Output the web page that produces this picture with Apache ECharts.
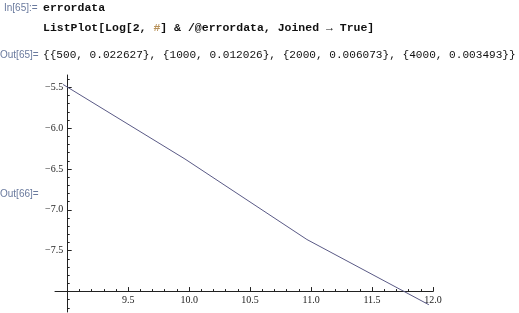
<!DOCTYPE html>
<html><head><meta charset="utf-8">
<script src="https://cdn.jsdelivr.net/npm/echarts@6/dist/echarts.min.js"></script>
<style>html,body{margin:0;padding:0;background:#fff;}#c{width:519px;height:313px;}</style>
</head><body><div id="c"></div>
<script>
// raw data as printed in Out[65]
const sizes = [500, 1000, 2000, 4000];
const errors = [0.022627, 0.012026, 0.006073, 0.003493];
// plotted values: Log[2, #] of each pair
const logSizes = [8.966, 9.966, 10.966, 11.966];
const logErrors = [-5.466, -6.378, -7.363, -8.161];
// tick labels
const xTickLabels = [9.5, 10.0, 10.5, 11.0, 11.5, 12.0];
const yTickLabels = [-7.5, -7.0, -6.5, -6.0, -5.5];
const xMinorTicks = [9.1,9.2,9.3,9.4,9.6,9.7,9.8,9.9,10.1,10.2,10.3,10.4,10.6,10.7,10.8,10.9,11.1,11.2,11.3,11.4,11.6,11.7,11.8,11.9];
const yMinorTicks = [-8.2,-8.1,-7.9,-7.8,-7.7,-7.6,-7.4,-7.3,-7.2,-7.1,-6.9,-6.8,-6.7,-6.6,-6.4,-6.3,-6.2,-6.1,-5.9,-5.8,-5.7,-5.6,-5.4];

const xMin = 8.9, xMax = 12.0, xOrigin = 9.0;
const yMin = -8.25, yMax = -5.35, yOrigin = -8.0;
const G = {left: 55, top: 75, width: 378, height: 237};
const xOff = -(yOrigin - yMin) / (yMax - yMin) * G.height;
const yOff = -(xOrigin - xMin) / (xMax - xMin) * G.width;

const axisColor = '#222';
const labelFont = {fontFamily: '"Liberation Serif", serif', fontSize: 10, color: '#222'};
const fmt = v => (v < 0 ? '\u2212' : '') + Math.abs(v).toFixed(1);

const pairs = sizes.map((s, i) => '{' + s + ', ' + errors[i] + '}');
const outText = '{' + pairs.join(', ') + '}';

function xAxisCfg(major) {
  return {
    type: 'value', gridIndex: 0, position: 'bottom', offset: xOff,
    min: xMin, max: xMax,
    splitLine: {show: false},
    axisLine: {show: major, onZero: false, lineStyle: {color: axisColor, width: 1}},
    axisTick: {show: true, inside: true, length: major ? 4.5 : 2.5,
      customValues: major ? xTickLabels : xMinorTicks, lineStyle: {color: axisColor}},
    axisLabel: major ? Object.assign({show: true, margin: 4, customValues: xTickLabels, formatter: fmt}, labelFont) : {show: false}
  };
}
function yAxisCfg(major) {
  return {
    type: 'value', gridIndex: 0, position: 'left', offset: yOff,
    min: yMin, max: yMax,
    splitLine: {show: false},
    axisLine: {show: major, onZero: false, lineStyle: {color: axisColor, width: 1}},
    axisTick: {show: true, inside: true, length: major ? 4.5 : 2.5,
      customValues: major ? yTickLabels : yMinorTicks, lineStyle: {color: axisColor}},
    axisLabel: major ? Object.assign({show: true, margin: 4, customValues: yTickLabels, formatter: fmt}, labelFont) : {show: false}
  };
}

const monoB = 'bold 11.5px "Liberation Mono", monospace';
const mono = '11.1px "Liberation Mono", monospace';
const tagFont = '10px "Liberation Sans", sans-serif';
const tagColor = '#6a7a9e';

const chart = echarts.init(document.getElementById('c'), null, {renderer: 'canvas'});
chart.setOption({
  animation: false,
  backgroundColor: '#fff',
  grid: G,
  xAxis: [xAxisCfg(true), xAxisCfg(false)],
  yAxis: [yAxisCfg(true), yAxisCfg(false)],
  series: [{
    type: 'line', xAxisIndex: 0, yAxisIndex: 0,
    data: logSizes.map((x, i) => [x, logErrors[i]]),
    showSymbol: false, symbol: 'none', clip: false,
    lineStyle: {color: '#5a5a86', width: 1}
  }],
  graphic: [
    {type: 'text', x: 4, y: 8, style: {text: 'In[65]:=', font: tagFont, fill: tagColor, verticalAlign: 'middle'}},
    {type: 'text', x: 43, y: 8, style: {text: 'errordata', font: monoB, fill: '#111', verticalAlign: 'middle'}},
    {type: 'text', x: 43, y: 28, style: {
      text: 'ListPlot[Log[2, {h|#}] & /@errordata, Joined \u2192 True]',
      font: monoB, fill: '#111', verticalAlign: 'middle',
      rich: {h: {font: monoB, fill: '#b8925a'}}}},
    {type: 'text', x: 0, y: 55, style: {text: 'Out[65]=', font: tagFont, fill: tagColor, verticalAlign: 'middle'}},
    {type: 'text', x: 43, y: 55, style: {text: outText, font: mono, fill: '#111', verticalAlign: 'middle'}},
    {type: 'text', x: 0, y: 194, style: {text: 'Out[66]=', font: tagFont, fill: tagColor, verticalAlign: 'middle'}}
  ]
});
</script>
</body></html>
